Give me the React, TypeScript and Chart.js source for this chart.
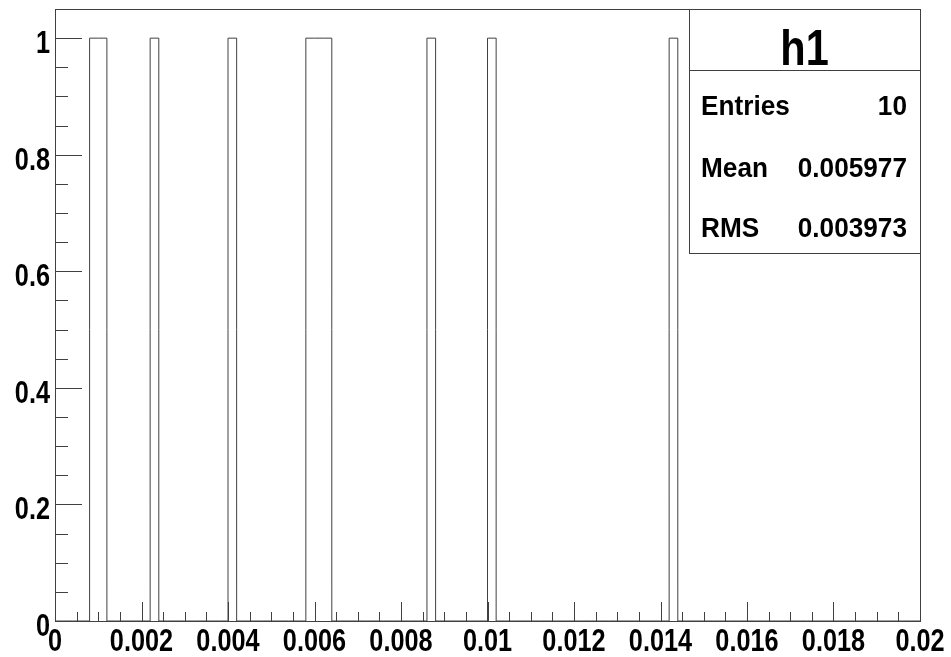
import React, { useEffect, useRef } from 'react';
import { Chart, registerables } from 'chart.js';

Chart.register(...registerables);

// ---- data ----
const histTitle = 'h1';
const nBins = 100;
const xMin = 0;
const xMax = 0.02;
const yMin = 0;
const yMax = 1.05;
const entryValues = [0.0009, 0.0011, 0.0023, 0.0041, 0.0059, 0.0061, 0.0063, 0.0087, 0.0101, 0.0143];
const xTickLabels = ['0', '0.002', '0.004', '0.006', '0.008', '0.01', '0.012', '0.014', '0.016', '0.018', '0.02'];
const yTickLabels = ['0', '0.2', '0.4', '0.6', '0.8', '1'];
const statsNames = ['Entries', 'Mean', 'RMS'];
const statsValues = ['10', '0.005977', '0.003973'];

// ---- styles ----
const LINE = '#404040';
const FONT_FAMILY = "'Liberation Sans', Arial, sans-serif";
const LABEL_SQUEEZE = 0.79;

function buildCounts(): number[] {
  const counts = new Array(nBins).fill(0);
  const w = (xMax - xMin) / nBins;
  for (const v of entryValues) {
    const i = Math.floor((v - xMin) / w);
    if (i >= 0 && i < nBins) counts[i] += 1;
  }
  return counts;
}

function buildOutline() {
  const counts = buildCounts();
  const w = (xMax - xMin) / nBins;
  const pts: { x: number; y: number }[] = [];
  for (let i = 0; i < nBins; i++) pts.push({ x: xMin + i * w, y: counts[i] });
  pts.push({ x: xMax, y: 0 });
  return pts;
}

function squeezedText(ctx: CanvasRenderingContext2D, text: string, x: number, y: number, align: CanvasTextAlign, sx: number) {
  ctx.save();
  ctx.textAlign = align;
  ctx.textBaseline = 'alphabetic';
  ctx.translate(x, y);
  ctx.scale(sx, 1);
  ctx.fillText(text, 0, 0);
  ctx.restore();
}

const rootDecor = {
  id: 'rootDecor',
  afterDraw(chart: any) {
    const { ctx, chartArea: a, scales } = chart;
    const xs = scales.x;
    const ys = scales.y;
    const L = Math.round(a.left), R = Math.round(a.right), T = Math.round(a.top), B = Math.round(a.bottom);
    const p = (v: number) => Math.round(v) + 0.5;
    ctx.save();
    ctx.strokeStyle = LINE;
    ctx.lineWidth = 1;
    const seg = (x1: number, y1: number, x2: number, y2: number) => {
      ctx.beginPath();
      ctx.moveTo(x1, y1);
      ctx.lineTo(x2, y2);
      ctx.stroke();
    };
    // frame
    ctx.strokeRect(L + 0.5, T + 0.5, R - L, B - T);

    // x ticks (inward) and labels
    const xMajors = xTickLabels.map((s) => parseFloat(s));
    const xSub = 4;
    ctx.fillStyle = '#000';
    ctx.font = `bold 32px ${FONT_FAMILY}`;
    for (let k = 0; k < xMajors.length; k++) {
      const xr = xs.getPixelForValue(xMajors[k]);
      const x = p(xr);
      seg(x, B, x, B - 19);
      squeezedText(ctx, xTickLabels[k], xr, B + 30, 'center', LABEL_SQUEEZE);
      if (k < xMajors.length - 1) {
        const step = (xMajors[k + 1] - xMajors[k]) / xSub;
        for (let j = 1; j < xSub; j++) {
          const xm = p(xs.getPixelForValue(xMajors[k] + j * step));
          seg(xm, B, xm, B - 9);
        }
      }
    }
    // y ticks (inward) and labels
    const yMajors = yTickLabels.map((s) => parseFloat(s));
    const ySub = 4;
    const yStep = (yMajors[1] - yMajors[0]) / ySub;
    for (let k = 0; k < yMajors.length; k++) {
      const yr = ys.getPixelForValue(yMajors[k]);
      const y = p(yr);
      seg(L, y, L + 27, y);
      squeezedText(ctx, yTickLabels[k], L - 5, yr + 15, 'right', LABEL_SQUEEZE);
      for (let j = 1; j < ySub; j++) {
        const v = yMajors[k] + j * yStep;
        if (v > yMax + 1e-9) break;
        const ym = p(ys.getPixelForValue(v));
        seg(L, ym, L + 13, ym);
      }
    }

    // stats box
    const bx1 = R - 231, bx2 = R, by1 = T, by2 = 253, bySep = 70;
    ctx.fillStyle = '#ffffff';
    ctx.fillRect(bx1 + 0.5, by1 + 0.5, bx2 - bx1, by2 - by1);
    ctx.strokeRect(bx1 + 0.5, by1 + 0.5, bx2 - bx1, by2 - by1);
    seg(bx1, bySep + 0.5, bx2, bySep + 0.5);

    ctx.fillStyle = '#000000';
    ctx.font = `bold 50px ${FONT_FAMILY}`;
    squeezedText(ctx, histTitle, (bx1 + bx2) / 2, 65, 'center', 0.83);

    ctx.font = `bold 27px ${FONT_FAMILY}`;
    const baselines = [115, 177, 237];
    for (let i = 0; i < statsNames.length; i++) {
      squeezedText(ctx, statsNames[i], bx1 + 12, baselines[i], 'left', 0.97);
      squeezedText(ctx, statsValues[i], bx2 - 13, baselines[i], 'right', 0.97);
    }
    ctx.restore();
  },
};

export default function App() {
  const ref = useRef<HTMLCanvasElement>(null);
  useEffect(() => {
    if (!ref.current) return;
    const chart = new Chart(ref.current, {
      type: 'line',
      data: {
        datasets: [
          {
            data: buildOutline(),
            stepped: 'before',
            borderColor: LINE,
            borderWidth: 1,
            pointRadius: 0,
            fill: false,
          },
        ],
      },
      options: {
        responsive: false,
        animation: false,
        events: [],
        layout: { padding: { top: 9, right: 31, left: 55, bottom: 36 } },
        plugins: { legend: { display: false }, tooltip: { enabled: false } },
        scales: {
          x: { type: 'linear', display: false, min: xMin, max: xMax },
          y: { type: 'linear', display: false, min: yMin, max: yMax },
        },
      },
      plugins: [rootDecor],
    } as any);
    return () => chart.destroy();
  }, []);
  return (
    <div style={{ position: 'absolute', left: 0, top: 0, width: 951, height: 657, background: '#fff' }}>
      <canvas ref={ref} width={951} height={657} />
    </div>
  );
}
